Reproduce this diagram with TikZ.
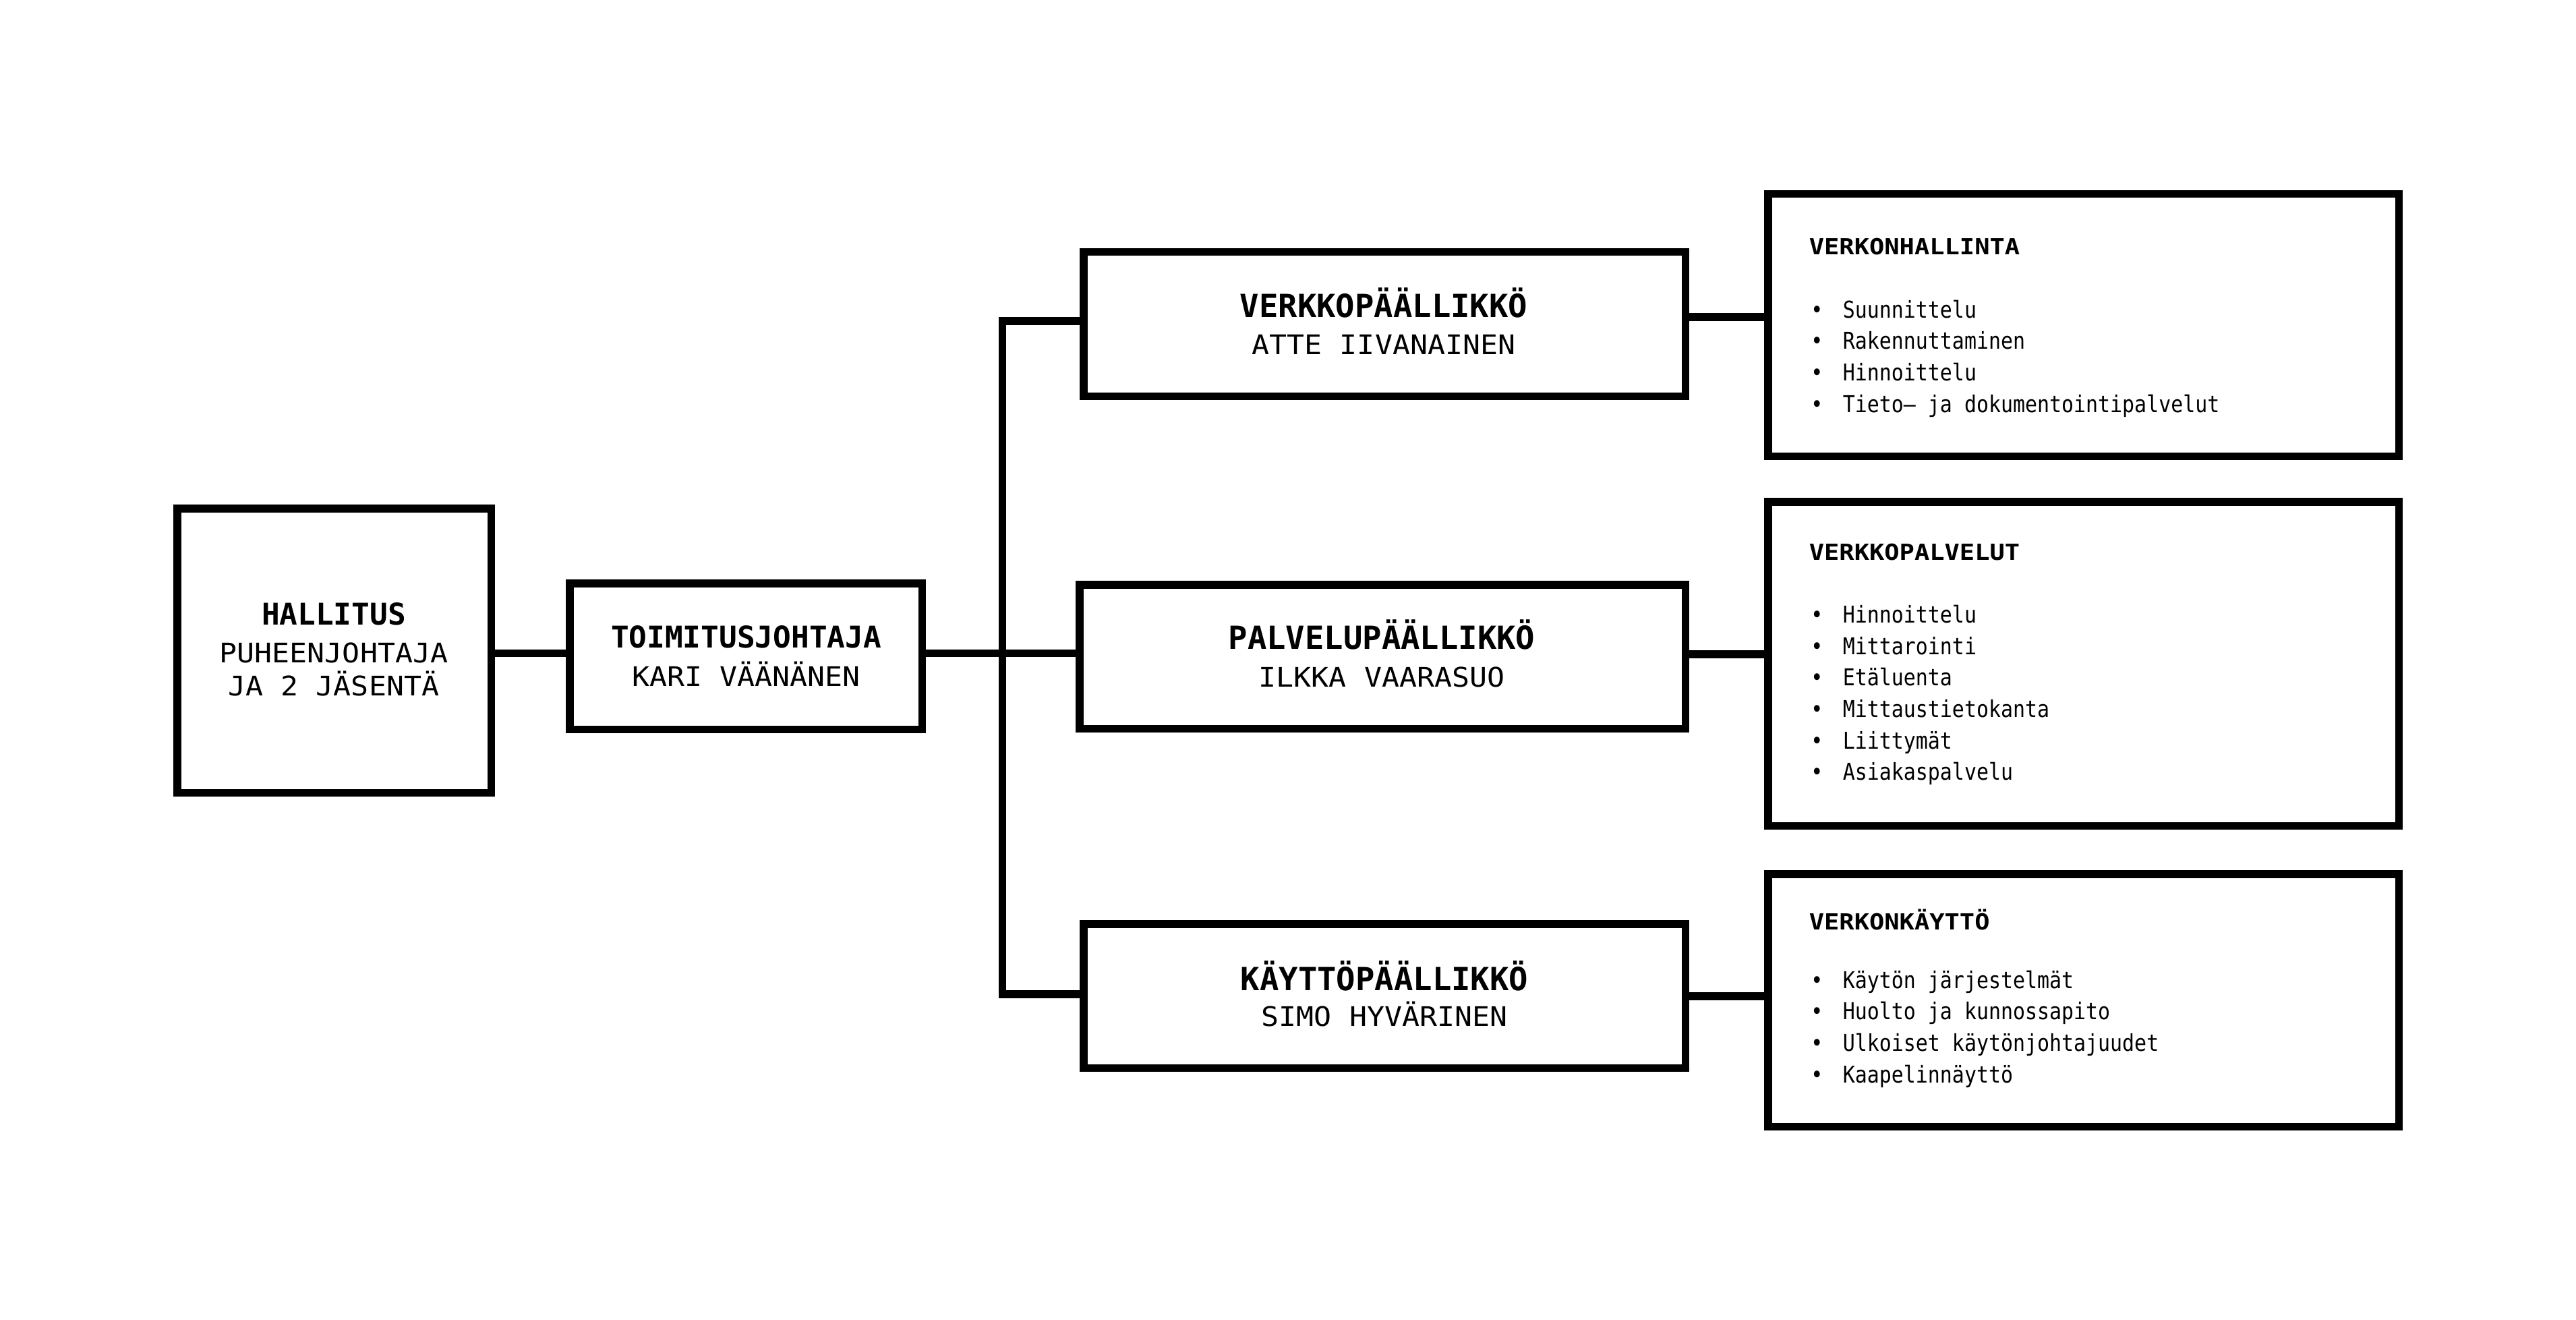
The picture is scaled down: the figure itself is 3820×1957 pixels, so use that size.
\documentclass[tikz,border=0pt]{standalone}
\usepackage{fontspec}
\newfontfamily\fmono{DejaVu Sans Mono}
\newfontfamily\fname[FakeStretch=1.08]{DejaVu Sans Mono}
\newfontfamily\fsub[FakeStretch=1.13]{DejaVu Sans Mono}
\newfontfamily\flist[FakeStretch=0.87]{DejaVu Sans Mono}
\begin{document}
\begin{tikzpicture}[x=0.25pt,y=-0.25pt,
  box/.style={draw, line width=2.875pt, rectangle, inner sep=0pt, fill=white},
  conn/.style={line width=2.875pt, line join=miter},
  tbigL/.style={anchor=base, inner sep=0pt, font=\fmono\bfseries\fontsize{11.1pt}{13pt}\selectfont},
  tbig/.style={anchor=base, inner sep=0pt, font=\fmono\bfseries\fontsize{11.8pt}{14pt}\selectfont},
  tname/.style={anchor=base, inner sep=0pt, font=\fname\fontsize{10pt}{12pt}\selectfont},
  tsub/.style={anchor=base west, inner sep=0pt, font=\fsub\bfseries\fontsize{8.2pt}{10pt}\selectfont},
  litem/.style={anchor=base west, inner sep=0pt, font=\flist\fontsize{8.6pt}{10pt}\selectfont},
  lbul/.style={anchor=base, inner sep=0pt, font=\flist\fontsize{8.6pt}{10pt}\selectfont}]
\fill[white] (0,0) rectangle (3820,1957);
\useasboundingbox (0,0) rectangle (3820,1957);

% boxes
\node[box, minimum width=116.375pt, minimum height=105.375pt] (hal) at (495.5,964.5) {};
\node[box, minimum width=130.625pt, minimum height=54.125pt] (toi) at (1106,973) {};
\node[box, minimum width=223.125pt, minimum height=53.375pt] (vp) at (2053,480.5) {};
\node[box, minimum width=224.625pt, minimum height=53.375pt] (pp) at (2050,973.5) {};
\node[box, minimum width=223.125pt, minimum height=53.375pt] (kp) at (2053,1476.5) {};
\node[box, minimum width=233.875pt, minimum height=97.125pt] (vh) at (3089.5,482) {};
\node[box, minimum width=233.875pt, minimum height=120.125pt] (vpal) at (3089.5,984) {};
\node[box, minimum width=233.875pt, minimum height=93.625pt] (vk) at (3089.5,1483) {};

% connector levels
\coordinate (ya) at (0,968.7);
\coordinate (yb1) at (0,475.8);
\coordinate (yb3) at (0,1474);
\coordinate (yr1) at (0,470);
\coordinate (yr2) at (0,970);
\coordinate (yr3) at (0,1476.8);
\coordinate (bus) at (1486.5,0);

\draw[conn] (hal.east |- ya) -- (toi.west |- ya);
\draw[conn] (toi.east |- ya) -- (pp.west |- ya);
\draw[conn] (vp.west |- yb1) -- (bus |- yb1) -- (bus |- yb3) -- (kp.west |- yb3);
\draw[conn] (vp.east |- yr1) -- (vh.west |- yr1);
\draw[conn] (pp.east |- yr2) -- (vpal.west |- yr2);
\draw[conn] (kp.east |- yr3) -- (vk.west |- yr3);

% texts in left and middle boxes
\node[tbigL] (halt) at (495,926.7) {HALLITUS};
\node[tname] (haln1) at (495,982.3) {PUHEENJOHTAJA};
\node[tname] (haln2) at (495,1031.7) {JA 2 JÄSENTÄ};
\node[tbigL] (toit) at (1106.5,960.7) {TOIMITUSJOHTAJA};
\node[tname] (toin) at (1106.5,1017.7) {KARI VÄÄNÄNEN};
\node[tbig] (vpt) at (2052,470) {VERKKOPÄÄLLIKKÖ};
\node[tname] (vpn) at (2052,526) {ATTE IIVANAINEN};
\node[tbig] (ppt) at (2049,962.7) {PALVELUPÄÄLLIKKÖ};
\node[tname] (ppn) at (2049,1018.3) {ILKKA VAARASUO};
\node[tbig] (kpt) at (2053,1468.3) {KÄYTTÖPÄÄLLIKKÖ};
\node[tname] (kpn) at (2053,1521.7) {SIMO HYVÄRINEN};

% right boxes
\node[tsub] (vht) at (2682,377.7) {VERKONHALLINTA};
\foreach \t [count=\i] in {Suunnittelu,Rakennuttaminen,Hinnoittelu,{Tieto– ja dokumentointipalvelut}} {
  \node[lbul] (vhb\i) at (2694.4,{471+(\i-1)*46.9}) {•};
  \node[litem] (vhl\i) at (2732,{471+(\i-1)*46.9}) {\t};
}
\node[tsub] (vpalt) at (2682,830) {VERKKOPALVELUT};
\foreach \t [count=\i] in {Hinnoittelu,Mittarointi,Etäluenta,Mittaustietokanta,Liittymät,Asiakaspalvelu} {
  \node[lbul] (vpb\i) at (2694.4,{923.3+(\i-1)*46.7}) {•};
  \node[litem] (vpl\i) at (2732,{923.3+(\i-1)*46.7}) {\t};
}
\node[tsub] (vkt) at (2682,1378.3) {VERKONKÄYTTÖ};
\foreach \t [count=\i] in {Käytön järjestelmät,Huolto ja kunnossapito,Ulkoiset käytönjohtajuudet,Kaapelinnäyttö} {
  \node[lbul] (vkb\i) at (2694.4,{1465+(\i-1)*46.7}) {•};
  \node[litem] (vkl\i) at (2732,{1465+(\i-1)*46.7}) {\t};
}
\end{tikzpicture}
\end{document}
